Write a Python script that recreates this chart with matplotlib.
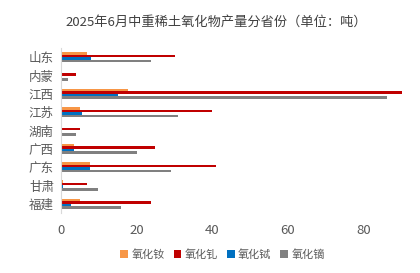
import matplotlib
matplotlib.use("Agg")
import matplotlib.pyplot as plt
import numpy as np

plt.rcParams['font.family'] = ['Noto Sans CJK SC', 'DejaVu Sans']

provinces = ["山东", "内蒙", "江西", "江苏", "湖南", "广西", "广东", "甘肃", "福建"]
series_names = ["氧化钕", "氧化钆", "氧化铽", "氧化镝"]
nd = [7.0, 0.0, 17.7, 5.0, 0.4, 3.4, 7.8, 0.6, 5.0]
gd = [30.1, 4.0, 92.0, 40.0, 5.0, 24.9, 41.0, 6.9, 23.9]
tb = [8.0, 0.0, 15.2, 5.5, 0.35, 3.4, 7.8, 0.6, 2.8]
dy = [23.9, 1.9, 86.2, 31.0, 4.0, 20.0, 29.0, 9.9, 15.9]
colors = ["#F79646", "#C00000", "#0070C0", "#808080"]

fig = plt.figure(figsize=(4.2, 2.73), dpi=100)
ax = fig.add_axes([0.145, 0.22, 0.812, 0.604])

y = np.arange(len(provinces))
h = 0.14
offsets = [-1.5 * h, -0.5 * h, 0.5 * h, 1.5 * h]
for vals, off, c, name in zip([nd, gd, tb, dy], offsets, colors, series_names):
    ax.barh(y + off, vals, height=h, color=c, label=name)

ax.set_ylim(len(provinces) - 0.5, -0.5)
ax.set_xlim(0, 90.2)
ax.set_yticks(y)
ax.set_yticklabels(provinces, fontsize=9, color="#595959")
ax.set_xticks([0, 20, 40, 60, 80])
ax.tick_params(axis='x', labelsize=9.5, colors="#595959", length=0, pad=8)
ax.tick_params(axis='y', length=0, pad=5)
for s in ["top", "right", "bottom"]:
    ax.spines[s].set_visible(False)
ax.spines["left"].set_color("#D9D9D9")
ax.spines["left"].set_linewidth(0.8)

fig.text(0.515, 0.918, "2025年6月中重稀土氧化物产量分省份（单位：吨）", ha="center", va="center",
         fontsize=9.5, color="#404040")

handles, labels = ax.get_legend_handles_labels()
fig.legend(handles, labels, loc="center", bbox_to_anchor=(0.53, 0.068), ncol=4, frameon=False,
           fontsize=8, handlelength=0.7, handleheight=0.7, columnspacing=0.8, handletextpad=0.3,
           labelcolor="#595959")

fig.savefig("out.png", dpi=100)
